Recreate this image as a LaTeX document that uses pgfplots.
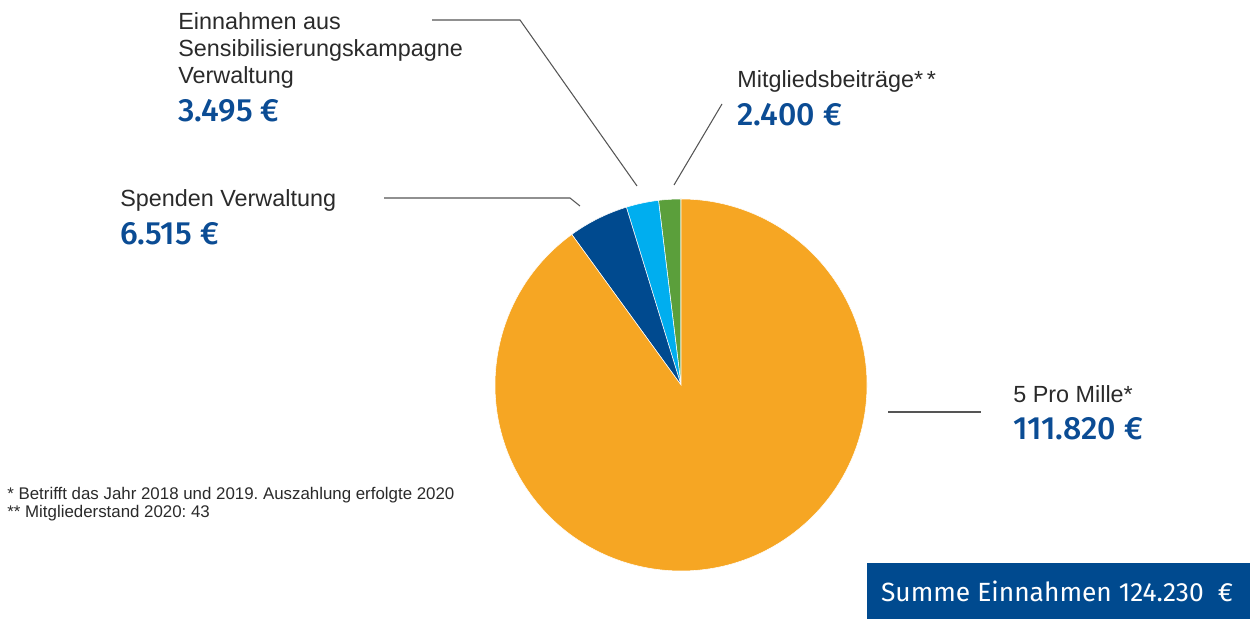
\documentclass[border=0pt]{standalone}
\usepackage{pgfplots}
\pgfplotsset{compat=1.18}
\usepackage{pgfplotstable}
\usepackage{fontspec}
\setmainfont{Liberation Sans}
\newfontfamily\valfont{Fira Sans}[BoldFont={Fira Sans Medium}]
\frenchspacing

\definecolor{corange}{HTML}{F6A623}
\definecolor{cdark}{HTML}{004A8F}
\definecolor{clight}{HTML}{00AEEF}
\definecolor{cgreen}{HTML}{5B9F3B}
\definecolor{cval}{HTML}{0B4C94}
\definecolor{ctext}{HTML}{2A2A2A}
\definecolor{cline}{HTML}{555555}

% slices counter-clockwise from 12 o'clock
\pgfplotstableread{
value color
2400 cgreen
3495 clight
6515 cdark
111820 corange
}\piedata

\def\pietotal{0}
\pgfplotsinvokeforeach{0,...,3}{%
  \pgfplotstablegetelem{#1}{value}\of\piedata
  \xdef\pietotal{\fpeval{\pietotal+\pgfplotsretval}}%
}
\def\pieang{90}
\pgfplotsinvokeforeach{0,...,3}{%
  \pgfplotstablegetelem{#1}{value}\of\piedata
  \expandafter\xdef\csname pieS#1\endcsname{\pieang}%
  \xdef\pieang{\fpeval{\pieang+360*\pgfplotsretval/\pietotal}}%
  \expandafter\xdef\csname pieE#1\endcsname{\pieang}%
  \pgfplotstablegetelem{#1}{color}\of\piedata
  \expandafter\xdef\csname pieC#1\endcsname{\pgfplotsretval}%
}

\begin{document}
\begin{tikzpicture}
\begin{axis}[
  scale only axis, width=25cm, height=12.38cm,
  xmin=0, xmax=1250, ymin=-619, ymax=0,
  hide axis, clip=false,
]
% pie
\pgfplotsinvokeforeach{0,...,3}{%
  \fill[\csname pieC#1\endcsname, draw=white, line width=0.3pt]
    (axis cs:681,-385) -- ++(\csname pieS#1\endcsname:3.72cm)
    arc[start angle=\csname pieS#1\endcsname, end angle=\csname pieE#1\endcsname, radius=3.72cm] -- cycle;
}

% leader lines
\draw[cline, line width=0.6pt] (axis cs:432,-20) -- (axis cs:520,-20) -- (axis cs:637,-186);
\draw[cline, line width=0.6pt] (axis cs:722,-104) -- (axis cs:674,-185);
\draw[cline, line width=0.6pt] (axis cs:384,-198) -- (axis cs:570,-198) -- (axis cs:580,-206);
\draw[cline, line width=0.6pt] (axis cs:888,-412) -- (axis cs:981,-412);

% labels
\tikzset{lab/.style={anchor=base west, inner sep=0pt, text=ctext, font=\fontsize{13.3}{15}\selectfont},
         val/.style={anchor=base west, inner sep=0pt, text=cval, font=\valfont\bfseries\fontsize{18.3}{20}\selectfont}}
\node[lab] at (axis cs:178,-30) {Einnahmen aus};
\node[lab] at (axis cs:178,-57) {Sensibilisierungskampagne};
\node[lab] at (axis cs:178,-84) {Verwaltung};
\node[val] at (axis cs:178,-122) {3.495 €};

\node[lab] at (axis cs:737,-88) {Mitgliedsbeiträge*\,*};
\node[val] at (axis cs:737,-126) {2.400 €};

\node[lab] at (axis cs:120,-207) {Spenden Verwaltung};
\node[val] at (axis cs:120,-245) {6.515 €};

\node[lab] at (axis cs:1013,-403) {5 Pro Mille*};
\node[val] at (axis cs:1013,-440) {111.820 €};

\node[lab, font=\fontsize{9.6}{10}\selectfont] at (axis cs:7,-500) {* Betrifft das Jahr 2018 und 2019. Auszahlung erfolgte 2020};
\node[lab, font=\fontsize{9.6}{10}\selectfont] at (axis cs:7,-518) {** Mitgliederstand 2020: 43};

% total box
\fill[cdark] (axis cs:867,-563) rectangle (axis cs:1250,-619);
\node[text=white, font=\valfont\fontsize{15}{17}\selectfont, inner sep=0pt] at (axis cs:1057,-591) {Summe Einnahmen 124.230\ \ €};
\end{axis}
\pgfresetboundingbox
\path (current axis.south west) rectangle (current axis.north east);
\end{tikzpicture}
\end{document}
